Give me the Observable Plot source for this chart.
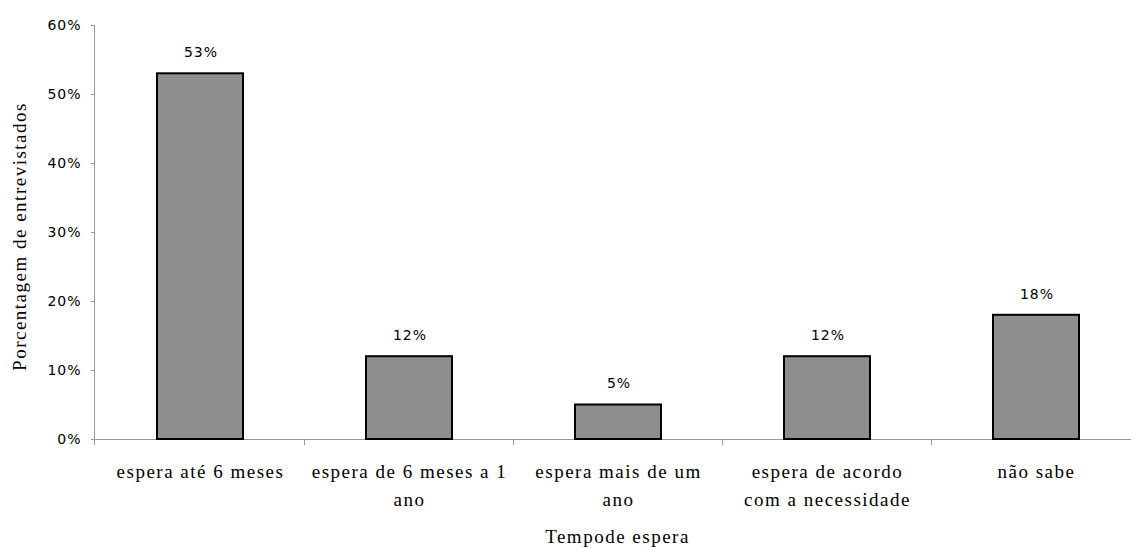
<!DOCTYPE html>
<html><head><meta charset="utf-8">
<script src="https://cdn.jsdelivr.net/npm/d3@7"></script>
<script src="https://cdn.jsdelivr.net/npm/@observablehq/plot@0.6"></script>
<style>body{margin:0;background:#fff;overflow:hidden} svg{display:block;overflow:visible}</style>
</head><body><div id="chart"></div>
<script>
const categories = ["espera até 6 meses","espera de 6 meses a 1 ano","espera mais de um ano","espera de acordo com a necessidade","não sabe"];
const tickLabels = ["espera até 6 meses","espera de 6 meses a 1\nano","espera mais de um\nano","espera de acordo\ncom a necessidade","não sabe"];
const values = [53,12,5,12,18];
const yTicks = [0,10,20,30,40,50,60];
const xTitle = "Tempode espera";
const yTitle = "Porcentagem de entrevistados";

const data = categories.map((c,i)=>({cat:c, value:values[i]}));
const labelOf = new Map(categories.map((c,i)=>[c,tickLabels[i]]));
const SANS = "'DejaVu Sans', Verdana, sans-serif";
const SERIF = "'Liberation Serif', 'Times New Roman', serif";
const GRAY = "#9a9a9a";

function guides(index, scales, values, dimensions) {
  const x = scales.x, y = scales.y;
  const bw = x.bandwidth(), step = x.step();
  const y0 = y(0);
  const g = d3.create("svg:g").attr("stroke", GRAY).attr("fill", "none");
  const xs = categories.map(c => x(c) + bw/2 - step/2);
  xs.push(xs[xs.length-1] + step);
  for (const px of xs.slice(1)) {
    g.append("line").attr("x1", px).attr("x2", px).attr("y1", y0).attr("y2", y0 + 6);
  }
  const ax = dimensions.marginLeft - 0.5;
  g.append("line").attr("x1", ax).attr("x2", ax).attr("y1", y(yTicks[yTicks.length-1])).attr("y2", y0 + 6);
  return g.node();
}

const chart = Plot.plot({
  width: 1131,
  height: 548,
  marginLeft: 95,
  marginRight: 0,
  marginTop: 25,
  marginBottom: 109,
  x: {domain: categories, range: [95, 1140], paddingInner: 0.59, paddingOuter: 0.295},
  y: {domain: [0, 60]},
  marks: [
    Plot.ruleY([0], {stroke: GRAY}),
    guides,
    Plot.barY(data, {x: "cat", y: "value", fill: "#8e8e8e", stroke: "black", strokeWidth: 2}),
    Plot.text(data, {x: "cat", y: "value", text: d => d.value + "%", dx: 0.5, dy: -21, fontSize: 14, fontFamily: SANS, fill: "black"}),
    Plot.axisY({ticks: yTicks, tickFormat: d => d + "%", tickSize: 4, tickPadding: 10, stroke: GRAY, fill: "black", fontSize: 14, fontFamily: SANS, label: null}),
    Plot.axisX({tickSize: 0, tickPadding: 18, tickFormat: d => labelOf.get(d), fontSize: 19, fontFamily: SERIF, lineHeight: 1.5, fill: "black", label: null}),
    Plot.text([xTitle], {frameAnchor: "bottom", dx: 4, dy: 97, fontSize: 19, fontFamily: SERIF, fill: "black", lineAnchor: "middle"}),
    Plot.text([yTitle], {frameAnchor: "left", textAnchor: "middle", rotate: -90, dx: -76, dy: 4, fontSize: 19, fontFamily: SERIF, fill: "black", lineAnchor: "middle"})
  ]
});
// widen glyph spacing to match the horizontally stretched look of the reference
chart.querySelectorAll("text").forEach(t => {
  const g = t.closest("g");
  const fam = (g && g.getAttribute("font-family")) || "";
  t.style.letterSpacing = fam.includes("Serif") ? "1.5px" : "1px";
});
document.getElementById("chart").appendChild(chart);
</script>
</body></html>
